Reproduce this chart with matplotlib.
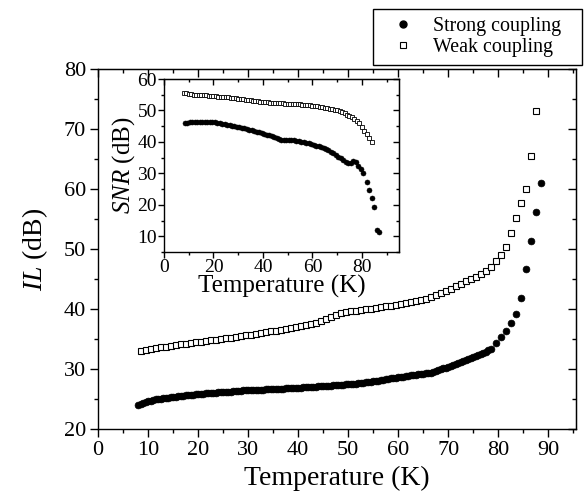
import matplotlib
matplotlib.use('Agg')
import matplotlib.pyplot as plt
from matplotlib.ticker import MultipleLocator
from matplotlib.lines import Line2D

plt.rcParams['font.family'] = 'Liberation Serif'
plt.rcParams['mathtext.fontset'] = 'custom'
plt.rcParams['mathtext.rm'] = 'Liberation Serif'
plt.rcParams['mathtext.it'] = 'Liberation Serif:italic'

# ---- insertion loss, strong coupling (dense sweep then coarse near Tc)
T_strong = [8.0, 8.5, 9.0, 9.5, 10.0, 10.5, 11.0, 11.5, 12.0, 12.5, 13.0, 13.5, 14.0, 14.5,
            15.0, 15.5, 16.0, 16.5, 17.0, 17.5, 18.0, 18.5, 19.0, 19.5, 20.0, 20.5, 21.0, 21.5,
            22.0, 22.5, 23.0, 23.5, 24.0, 24.5, 25.0, 25.5, 26.0, 26.5, 27.0, 27.5, 28.0, 28.5,
            29.0, 29.5, 30.0, 30.5, 31.0, 31.5, 32.0, 32.5, 33.0, 33.5, 34.0, 34.5, 35.0, 35.5,
            36.0, 36.5, 37.0, 37.5, 38.0, 38.5, 39.0, 39.5, 40.0, 40.5, 41.0, 41.5, 42.0, 42.5,
            43.0, 43.5, 44.0, 44.5, 45.0, 45.5, 46.0, 46.5, 47.0, 47.5, 48.0, 48.5, 49.0, 49.5,
            50.0, 50.5, 51.0, 51.5, 52.0, 52.5, 53.0, 53.5, 54.0, 54.5, 55.0, 55.5, 56.0, 56.5,
            57.0, 57.5, 58.0, 58.5, 59.0, 59.5, 60.0, 60.5, 61.0, 61.5, 62.0, 62.5, 63.0, 63.5,
            64.0, 64.5, 65.0, 65.5, 66.0, 66.5, 67.0, 67.5, 68.0, 68.5, 69.0, 69.5, 70.0, 70.5,
            71.0, 71.5, 72.0, 72.5, 73.0, 73.5, 74.0, 74.5, 75.0, 75.5, 76.0, 76.5, 77.0, 77.5,
            78.0, 78.5, 79.5, 80.5, 81.5, 82.5, 83.5, 84.5, 85.5, 86.5, 87.5, 88.5]
IL_strong = [24.00, 24.18, 24.35, 24.50, 24.63, 24.74, 24.84, 24.92, 25.00, 25.07, 25.13, 25.19, 25.24, 25.29,
             25.34, 25.39, 25.44, 25.49, 25.54, 25.59, 25.64, 25.68, 25.72, 25.76, 25.80, 25.84, 25.88, 25.92,
             25.96, 26.00, 26.04, 26.07, 26.10, 26.13, 26.16, 26.19, 26.22, 26.25, 26.28, 26.32, 26.36, 26.40,
             26.42, 26.44, 26.46, 26.48, 26.50, 26.52, 26.54, 26.56, 26.58, 26.60, 26.62, 26.64, 26.66, 26.68,
             26.70, 26.72, 26.74, 26.76, 26.78, 26.80, 26.83, 26.85, 26.88, 26.91, 26.93, 26.96, 26.99, 27.02,
             27.04, 27.07, 27.10, 27.13, 27.15, 27.18, 27.21, 27.23, 27.26, 27.29, 27.31, 27.34, 27.38, 27.42,
             27.46, 27.50, 27.54, 27.58, 27.63, 27.68, 27.73, 27.78, 27.83, 27.88, 27.93, 28.00, 28.07, 28.14,
             28.21, 28.28, 28.36, 28.45, 28.51, 28.57, 28.63, 28.69, 28.75, 28.81, 28.87, 28.93, 28.99, 29.05,
             29.11, 29.17, 29.23, 29.29, 29.35, 29.41, 29.52, 29.65, 29.80, 29.95, 30.10, 30.25, 30.40, 30.55,
             30.75, 30.91, 31.07, 31.23, 31.39, 31.55, 31.71, 31.87, 32.03, 32.20, 32.37, 32.54, 32.72, 32.90,
             33.10, 33.35, 34.30, 35.30, 36.30, 37.70, 39.20, 41.90, 46.60, 51.40, 56.20, 61.00]

# ---- insertion loss, weak coupling
T_weak = [8.5, 9.5, 10.5, 11.5, 12.5, 13.5, 14.5, 15.5, 16.5, 17.5, 18.5, 19.5, 20.5, 21.5,
          22.5, 23.5, 24.5, 25.5, 26.5, 27.5, 28.5, 29.5, 30.5, 31.5, 32.5, 33.5, 34.5, 35.5,
          36.5, 37.5, 38.5, 39.5, 40.5, 41.5, 42.5, 43.5, 44.5, 45.5, 46.5, 47.5, 48.5, 49.5,
          50.5, 51.5, 52.5, 53.5, 54.5, 55.5, 56.5, 57.5, 58.5, 59.5, 60.5, 61.5, 62.5, 63.5,
          64.5, 65.5, 66.5, 67.5, 68.5, 69.5, 70.5, 71.5, 72.5, 73.5, 74.5, 75.5, 76.5, 77.5,
          78.5, 79.5, 80.5, 81.5, 82.5, 83.5, 84.5, 85.5, 86.5, 87.5]
IL_weak = [33.05, 33.22, 33.36, 33.49, 33.61, 33.73, 33.85, 33.97, 34.09, 34.21, 34.33, 34.45, 34.56, 34.67,
           34.78, 34.89, 35.00, 35.11, 35.23, 35.35, 35.47, 35.60, 35.73, 35.86, 35.99, 36.12, 36.26, 36.40,
           36.54, 36.68, 36.83, 36.98, 37.14, 37.32, 37.52, 37.75, 38.00, 38.28, 38.60, 38.95, 39.30, 39.48,
           39.60, 39.72, 39.84, 39.96, 40.08, 40.20, 40.32, 40.45, 40.58, 40.71, 40.84, 40.98, 41.12, 41.28,
           41.45, 41.64, 42.00, 42.30, 42.65, 43.00, 43.40, 43.80, 44.20, 44.60, 45.00, 45.40, 45.80, 46.25,
           47.00, 48.00, 49.00, 50.30, 52.70, 55.20, 57.60, 60.05, 65.50, 73.00]

# ---- SNR (inset)
T_snr_strong = [8.5, 9.5, 10.5, 11.5, 12.5, 13.5, 14.5, 15.5, 16.5, 17.5, 18.5, 19.5, 20.5, 21.5,
                22.5, 23.5, 24.5, 25.5, 26.5, 27.5, 28.5, 29.5, 30.5, 31.5, 32.5, 33.5, 34.5, 35.5,
                36.5, 37.5, 38.5, 39.5, 40.5, 41.5, 42.5, 43.5, 44.5, 45.5, 46.5, 47.5, 48.5, 49.5,
                50.5, 51.5, 52.5, 53.5, 54.5, 55.5, 56.5, 57.5, 58.5, 59.5, 60.5, 61.5, 62.5, 63.5,
                64.5, 65.5, 66.5, 67.5, 68.5, 69.5, 70.5, 71.5, 72.5, 73.5, 74.5, 75.5, 76.5, 77.5,
                78.5, 79.5, 80.5, 82.2, 82.9, 84.0, 85.0, 86.0, 86.8]
SNR_strong = [46.00, 46.15, 46.25, 46.30, 46.35, 46.38, 46.40, 46.40, 46.40, 46.38, 46.35, 46.30, 46.20, 46.10,
              45.95, 45.80, 45.65, 45.50, 45.35, 45.20, 45.02, 44.85, 44.68, 44.50, 44.30, 44.10, 43.90, 43.70,
              43.50, 43.30, 43.08, 42.85, 42.60, 42.35, 42.10, 41.85, 41.60, 41.30, 41.00, 40.75, 40.60, 40.55,
              40.55, 40.55, 40.50, 40.40, 40.25, 40.10, 39.90, 39.70, 39.50, 39.30, 39.05, 38.80, 38.55, 38.30,
              38.05, 37.70, 37.30, 36.85, 36.40, 35.90, 35.35, 34.80, 34.25, 33.75, 33.40, 33.30, 33.90, 33.50,
              32.40, 31.30, 30.00, 27.20, 24.60, 22.10, 19.30, 12.10, 11.30]

T_snr_weak = [8, 9, 10, 11, 12, 13, 14, 15, 16, 17, 18, 19, 20, 21, 22, 23, 24, 25, 26, 27,
              28, 29, 30, 31, 32, 33, 34, 35, 36, 37, 38, 39, 40, 41, 42, 43, 44, 45, 46, 47,
              48, 49, 50, 51, 52, 53, 54, 55, 56, 57, 58, 59, 60, 61, 62, 63, 64, 65, 66, 67,
              68, 69, 70, 71, 72, 73, 74, 75, 76, 77, 78, 79, 80, 81, 82, 83, 84]
SNR_weak = [55.70, 55.40, 55.20, 55.10, 55.05, 55.00, 54.95, 54.90, 54.85, 54.80, 54.75, 54.65, 54.55, 54.45,
            54.40, 54.35, 54.30, 54.25, 54.15, 54.05, 53.95, 53.85, 53.75, 53.65, 53.55, 53.45, 53.35, 53.25,
            53.10, 52.95, 52.85, 52.75, 52.65, 52.60, 52.55, 52.50, 52.45, 52.40, 52.35, 52.30, 52.25, 52.20,
            52.15, 52.10, 52.05, 52.00, 51.95, 51.90, 51.85, 51.80, 51.75, 51.65, 51.55, 51.45, 51.35, 51.20,
            51.05, 50.90, 50.75, 50.60, 50.45, 50.25, 50.00, 49.70, 49.40, 49.05, 48.70, 48.30, 47.85, 47.30,
            46.70, 45.90, 44.80, 43.60, 42.60, 41.20, 40.00]


def frame(ax, xmaj, xmin, ymaj, ymin, big, small):
    # ticks out on left/bottom, mirrored inward on top/right
    ax.xaxis.set_major_locator(MultipleLocator(xmaj))
    ax.xaxis.set_minor_locator(MultipleLocator(xmin))
    ax.yaxis.set_major_locator(MultipleLocator(ymaj))
    ax.yaxis.set_minor_locator(MultipleLocator(ymin))
    ax.tick_params(which='both', direction='out', width=1)
    ax.tick_params(which='major', length=big)
    ax.tick_params(which='minor', length=small)
    for spine in ax.spines.values():
        spine.set_linewidth(1.0)
    top = ax.secondary_xaxis('top')
    top.xaxis.set_major_locator(MultipleLocator(xmaj))
    top.xaxis.set_minor_locator(MultipleLocator(xmin))
    top.tick_params(which='both', direction='in', labeltop=False, width=1)
    top.tick_params(which='major', length=big)
    top.tick_params(which='minor', length=small)
    right = ax.secondary_yaxis('right')
    right.yaxis.set_major_locator(MultipleLocator(ymaj))
    right.yaxis.set_minor_locator(MultipleLocator(ymin))
    right.tick_params(which='both', direction='in', labelright=False, width=1)
    right.tick_params(which='major', length=big)
    right.tick_params(which='minor', length=small)


fig = plt.figure(figsize=(5.85, 5.01), dpi=100)

ax = fig.add_axes([0.1675, 0.1437, 0.8171, 0.7186])
ax.plot(T_strong, IL_strong, 'o', ms=4.9, color='black', mec='black', mew=0.5)
ax.plot(T_weak, IL_weak, 's', ms=4.6, mfc='white', mec='black', mew=0.8)
ax.set_xlim(0, 95.5)
ax.set_ylim(20, 80)
frame(ax, 10, 5, 10, 5, 5.5, 3.2)
ax.tick_params(labelsize=16, pad=3)
ax.set_xlabel('Temperature (K)', fontsize=20, labelpad=4)
ax.set_ylabel('$IL$ (dB)', fontsize=20, labelpad=10)

# inset: signal-to-noise ratio
ins = fig.add_axes([0.2803, 0.497, 0.4017, 0.3453])
ins.plot(T_snr_strong, SNR_strong, 'o', ms=3.6, color='black', mec='black', mew=0.4)
ins.plot(T_snr_weak, SNR_weak, 's', ms=3.3, mfc='white', mec='black', mew=0.6)
ins.set_xlim(0, 95)
ins.set_ylim(5, 60)
frame(ins, 20, 10, 10, 5, 4, 2.5)
ins.tick_params(labelsize=14, pad=1)
ins.set_xlabel('Temperature (K)', fontsize=18, labelpad=-1)
ins.set_ylabel('$SNR$ (dB)', fontsize=18, labelpad=0)

handles = [Line2D([], [], ls='none', marker='o', ms=5, color='black'),
           Line2D([], [], ls='none', marker='s', ms=4.6, mfc='white', mec='black', mew=0.8)]
leg = fig.legend(handles, ['Strong coupling', 'Weak coupling'], loc='upper left',
                 bbox_to_anchor=(0.6376, 0.982, 0.357, 0), mode='expand', fontsize=14.4,
                 frameon=True, fancybox=False, edgecolor='black', framealpha=1,
                 borderpad=0.4, handletextpad=0.4, labelspacing=0.1, handlelength=2.2,
                 borderaxespad=0)
leg.get_frame().set_linewidth(1.0)

fig.savefig('out.png', dpi=100)
